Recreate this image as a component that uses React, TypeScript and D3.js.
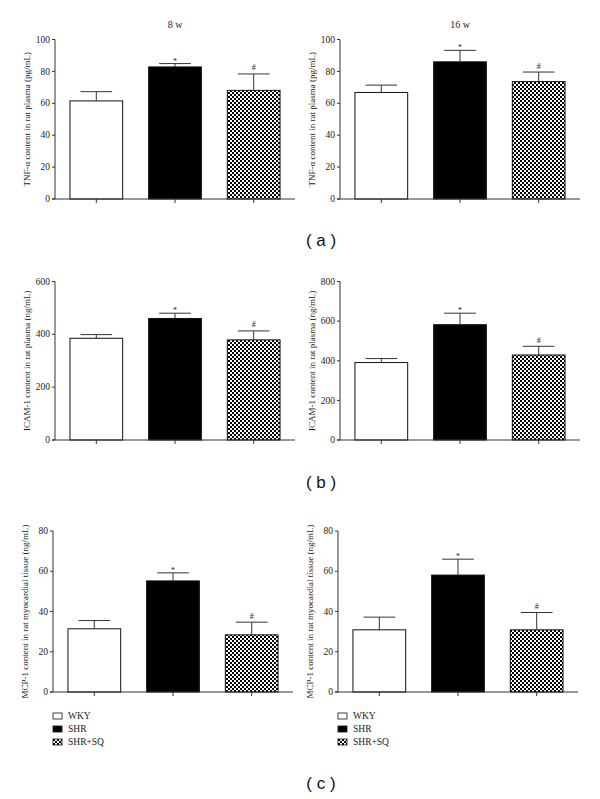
import * as d3 from "d3"

const groups = ["WKY", "SHR", "SHR+SQ"]
const fills = ["#ffffff", "#000000", "url(#checker)"]
const marks = ["", "*", "#"]

// TNF-α (pg/mL)
const tnf8wMeans = [61.5, 82.8, 68.1]
const tnf8wErr = [5.8, 2.1, 10.3]
const tnf16wMeans = [66.8, 86.0, 73.6]
const tnf16wErr = [4.6, 7.2, 6.0]
const tnfTicks = [0, 20, 40, 60, 80, 100]

// ICAM-1 (ng/mL)
const icam8wMeans = [385, 460, 379]
const icam8wErr = [14, 20, 34]
const icam16wMeans = [391, 582, 429]
const icam16wErr = [20, 58, 44]
const icam8wTicks = [0, 200, 400, 600]
const icam16wTicks = [0, 200, 400, 600, 800]

// MCP-1 (ng/mL)
const mcp8wMeans = [31.4, 55.2, 28.4]
const mcp8wErr = [4.1, 4.0, 6.3]
const mcp16wMeans = [30.9, 58.1, 30.9]
const mcp16wErr = [6.3, 7.9, 8.6]
const mcpTicks = [0, 20, 40, 60, 80]

const serif = "'Liberation Serif', 'Times New Roman', serif"
const sans = "'Liberation Sans', Arial, sans-serif"

interface PanelProps {
  left: number
  right: number
  top: number
  bottom: number
  ticks: number[]
  means: number[]
  errs: number[]
  label: string
  title?: string
  legend?: boolean
}

function Panel({ left, right, top, bottom, ticks, means, errs, label, title, legend }: PanelProps) {
  const y = d3
    .scaleLinear()
    .domain([0, ticks[ticks.length - 1]])
    .range([bottom, top])
  const x = d3.scaleBand<string>().domain(groups).range([left, right]).paddingInner(0.33).paddingOuter(0.19)
  const bw = x.bandwidth()
  const cap = bw * 0.6

  return (
    <g>
      {title && (
        <text x={x("SHR")! + bw / 2} y={28} textAnchor="middle" fontFamily={serif} fontSize={10} fill="#222">
          {title}
        </text>
      )}
      {/* bars with upper error bars */}
      {groups.map((g, i) => {
        const cx = x(g)! + bw / 2
        const eTop = y(means[i] + errs[i])
        return (
          <g key={g}>
            <rect
              x={x(g)}
              y={y(means[i])}
              width={bw}
              height={y(0) - y(means[i])}
              fill={fills[i]}
              stroke="#111"
              strokeWidth={1}
            />
            <line x1={cx} x2={cx} y1={y(means[i])} y2={eTop} stroke="#333" strokeWidth={1} />
            <line x1={cx - cap / 2} x2={cx + cap / 2} y1={eTop} y2={eTop} stroke="#333" strokeWidth={1} />
            {marks[i] && (
              <text
                x={cx}
                y={eTop - (marks[i] === "*" ? 0 : 3.5)}
                textAnchor="middle"
                fontFamily={serif}
                fontSize={8}
                fill="#222"
              >
                {marks[i]}
              </text>
            )}
            <line x1={cx} x2={cx} y1={bottom} y2={bottom + 4} stroke="#333" />
          </g>
        )
      })}
      {/* axes */}
      <line x1={left} x2={left} y1={top} y2={bottom} stroke="#333" />
      <line x1={left - 3} x2={right} y1={bottom} y2={bottom} stroke="#333" />
      {ticks.map((t) => (
        <g key={t}>
          <line x1={left - 3} x2={left} y1={y(t)} y2={y(t)} stroke="#333" />
          <text
            x={left - 5}
            y={y(t)}
            dy="0.33em"
            textAnchor="end"
            fontFamily={serif}
            fontSize={9.5}
            fill="#1a1a1a"
          >
            {t}
          </text>
        </g>
      ))}
      <text
        transform={`translate(${left - 28},${(top + bottom) / 2}) rotate(-90)`}
        textAnchor="middle"
        dy="0.33em"
        fontFamily={serif}
        fontSize={9}
        fill="#1a1a1a"
      >
        {label}
      </text>
      {legend &&
        groups.map((g, i) => (
          <g key={"leg" + g} transform={`translate(${left},${bottom + 21 + i * 13})`}>
            <rect x={0} y={0} width={9} height={6} fill={fills[i]} stroke="#111" strokeWidth={0.8} />
            <text x={15} y={3} dy="0.35em" fontFamily={serif} fontSize={9.5} fill="#1a1a1a">
              {g}
            </text>
          </g>
        ))}
    </g>
  )
}

export default function App() {
  const rows = [
    { top: 39.5, bottom: 199, letter: "( a )", letterY: 246 },
    { top: 281.5, bottom: 440, letter: "( b )", letterY: 488 },
    { top: 531, bottom: 692, letter: "( c )", letterY: 789 },
  ]
  return (
    <svg width={600} height={799} style={{ position: "absolute", left: 0, top: 0, background: "#fff" }}>
      <defs>
        <pattern id="checker" width={4} height={4} patternUnits="userSpaceOnUse">
          <rect width={4} height={4} fill="#fff" />
          <rect width={2} height={2} fill="#000" />
          <rect x={2} y={2} width={2} height={2} fill="#000" />
        </pattern>
      </defs>
      <rect width={600} height={799} fill="#fff" />
      <Panel left={55} right={295} {...rows[0]} ticks={tnfTicks} means={tnf8wMeans} errs={tnf8wErr}
        label="TNF-α content in rat plasma (pg/mL)" title="8 w" />
      <Panel left={340} right={580} {...rows[0]} ticks={tnfTicks} means={tnf16wMeans} errs={tnf16wErr}
        label="TNF-α content in rat plasma (pg/mL)" title="16 w" />
      <Panel left={55} right={295} {...rows[1]} ticks={icam8wTicks} means={icam8wMeans} errs={icam8wErr}
        label="ICAM-1 content in rat plasma (ng/mL)" />
      <Panel left={340} right={580} {...rows[1]} ticks={icam16wTicks} means={icam16wMeans} errs={icam16wErr}
        label="ICAM-1 content in rat plasma (ng/mL)" />
      <Panel left={53} right={293} {...rows[2]} ticks={mcpTicks} means={mcp8wMeans} errs={mcp8wErr}
        label="MCP-1 content in rat myocardial tissue (ng/mL)" legend />
      <Panel left={338} right={578} {...rows[2]} ticks={mcpTicks} means={mcp16wMeans} errs={mcp16wErr}
        label="MCP-1 content in rat myocardial tissue (ng/mL)" legend />
      {rows.map((r) => (
        <text key={r.letter} x={321} y={r.letterY} textAnchor="middle" fontFamily={sans} fontSize={17}
          fill="#111" style={{ whiteSpace: "pre" }}>
          {r.letter}
        </text>
      ))}
    </svg>
  )
}
